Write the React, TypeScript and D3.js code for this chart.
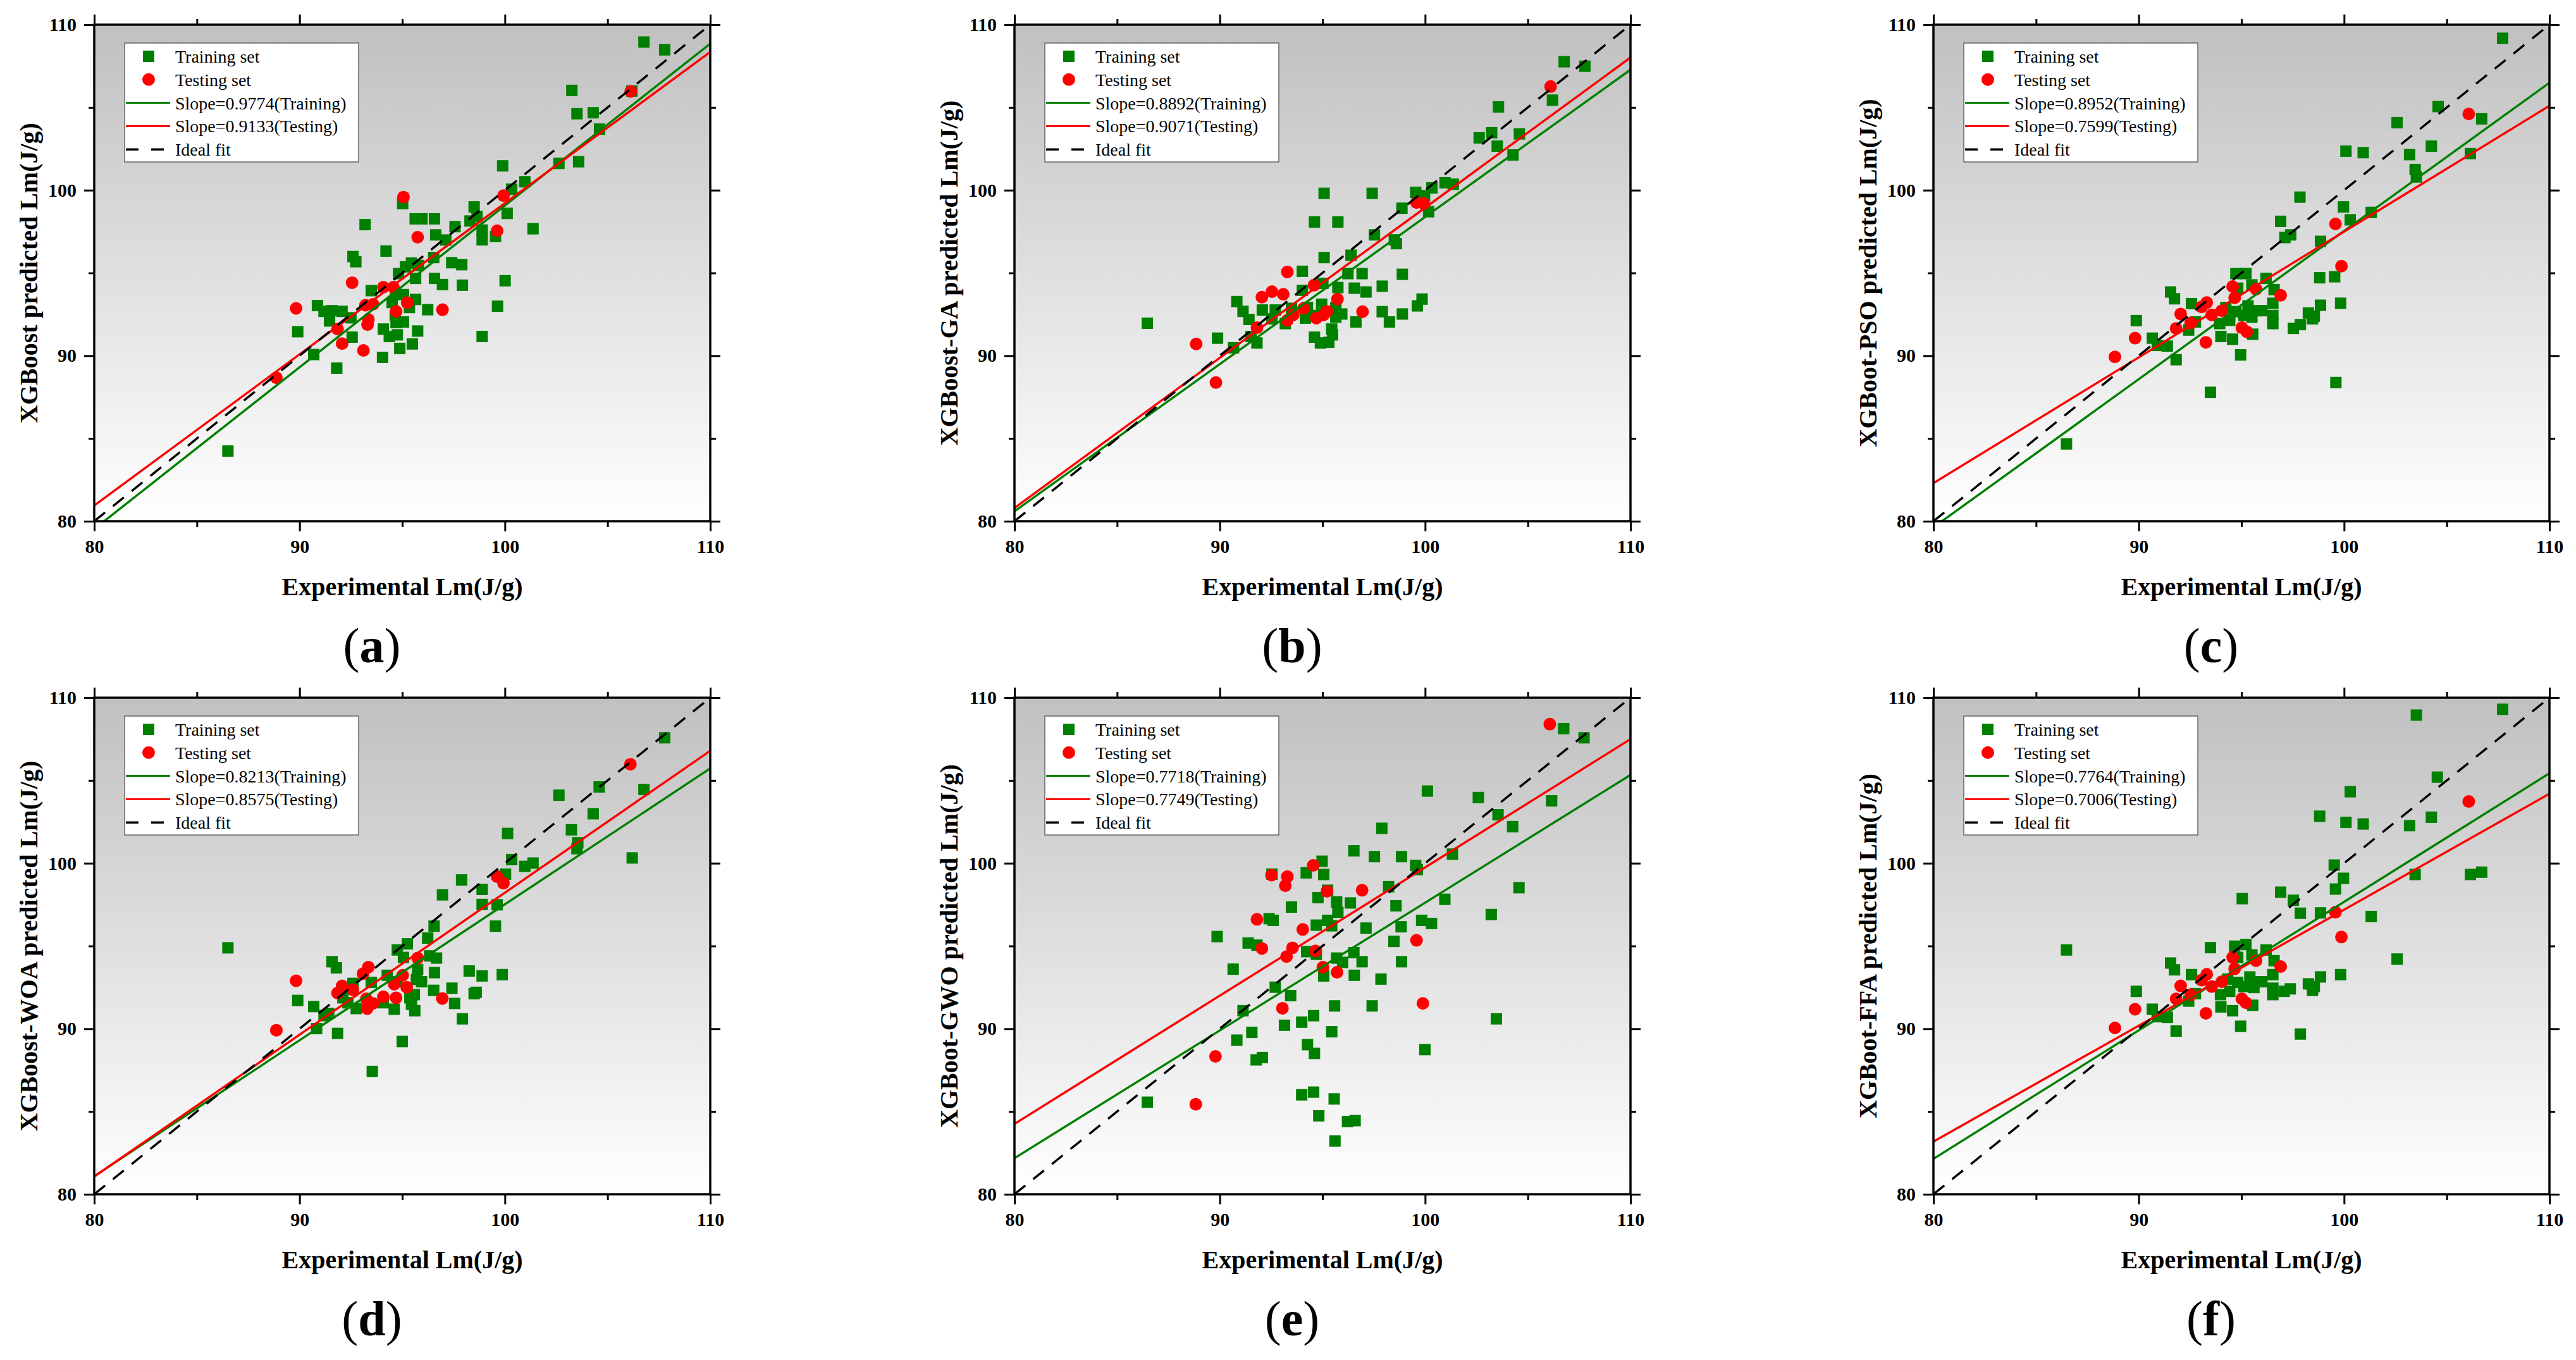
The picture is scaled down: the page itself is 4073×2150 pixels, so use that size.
import React, { useEffect, useRef } from 'react';
import * as d3 from 'd3';

// ---- data (Experimental, Predicted) ----
const trainA: [number, number][] = [
  [106.77, 108.95], [107.78, 108.48], [103.26, 106.03], [106.18, 105.99], [103.51, 104.62], [104.3, 104.68],
  [104.61, 103.69], [102.63, 101.62], [103.59, 101.72], [99.89, 101.47], [100.97, 100.51], [100.33, 100.06],
  [100.11, 98.6], [101.37, 97.67], [95.02, 99.19], [95.63, 98.27], [95.96, 98.27], [96.57, 98.27],
  [93.19, 97.92], [98.5, 98.99], [98.3, 98.14], [98.64, 98.41], [97.57, 97.8], [98.89, 97.59],
  [98.89, 97.0], [99.54, 97.2], [96.63, 97.3], [97.12, 96.99], [94.21, 96.32], [92.6, 95.99],
  [92.74, 95.68], [96.53, 95.93], [97.41, 95.62], [97.9, 95.5], [95.45, 95.6], [95.79, 95.45],
  [95.16, 95.37], [94.82, 94.96], [95.65, 94.67], [96.57, 94.67], [96.96, 94.3], [97.93, 94.26],
  [100.01, 94.53], [93.49, 93.93], [94.67, 93.79], [95.06, 93.69], [95.65, 93.4], [95.35, 92.91],
  [94.51, 93.21], [96.24, 92.78], [99.64, 92.99], [90.87, 93.03], [91.19, 92.68], [91.58, 92.72],
  [92.07, 92.68], [92.5, 92.29], [91.46, 92.1], [94.66, 92.43], [94.7, 92.0], [95.06, 92.04],
  [94.08, 91.61], [95.75, 91.49], [89.91, 91.45], [92.56, 91.12], [94.37, 91.16], [94.76, 91.26],
  [98.89, 91.16], [90.69, 90.07], [95.49, 90.71], [94.88, 90.44], [94.04, 89.9], [91.81, 89.25],
  [86.51, 84.24],
];
const testA: [number, number][] = [
  [106.13, 105.97], [95.06, 99.58], [99.93, 99.67], [95.75, 97.16], [99.62, 97.55], [92.56, 94.41],
  [94.08, 94.14], [94.57, 94.14], [89.83, 92.86], [93.21, 93.05], [93.58, 93.11], [95.24, 93.21],
  [94.7, 92.68], [96.96, 92.78], [93.35, 92.19], [93.31, 91.88], [91.85, 91.61], [92.07, 90.73],
  [93.11, 90.32], [88.87, 88.67],
];

const trainB: [number, number][] = [
  [106.77, 107.76], [107.78, 107.49], [106.2, 105.44], [103.57, 105.03], [102.63, 103.16], [103.24, 103.47],
  [103.51, 102.66], [104.59, 103.4], [104.28, 102.13], [99.54, 99.87], [99.97, 99.67], [100.33, 100.14],
  [100.97, 100.45], [101.37, 100.36], [100.17, 98.7], [98.87, 98.91], [95.08, 99.81], [97.42, 99.81],
  [94.61, 98.08], [95.75, 98.08], [97.53, 97.3], [98.5, 97.0], [98.6, 96.77], [96.39, 96.07],
  [95.08, 95.93], [94.02, 95.1], [96.24, 94.96], [96.93, 94.96], [98.89, 94.92], [94.02, 93.95],
  [95.75, 94.12], [95.02, 94.37], [96.55, 94.08], [97.12, 93.85], [97.91, 94.2], [99.85, 93.42],
  [99.62, 93.01], [90.83, 93.27], [91.13, 92.68], [91.42, 92.19], [92.07, 92.76], [92.7, 92.76],
  [92.54, 92.23], [93.49, 92.86], [94.27, 92.91], [94.61, 92.43], [94.96, 93.11], [95.65, 92.91],
  [95.65, 92.33], [95.94, 92.52], [96.63, 92.04], [97.91, 92.66], [98.26, 92.04], [98.89, 92.52],
  [93.19, 91.94], [94.17, 92.27], [95.45, 91.61], [95.49, 91.26], [94.61, 91.12], [94.9, 90.77],
  [95.31, 90.81], [89.89, 91.06], [90.67, 90.48], [91.81, 90.77], [91.52, 91.16], [86.47, 91.96],
];
const testB: [number, number][] = [
  [106.11, 106.26], [99.58, 99.25], [99.93, 99.19], [93.29, 95.06], [94.59, 94.26], [92.54, 93.87],
  [92.05, 93.54], [93.09, 93.71], [95.73, 93.42], [94.08, 92.86], [93.58, 92.47], [93.29, 92.14],
  [94.7, 92.27], [95.06, 92.47], [95.22, 92.68], [96.95, 92.66], [91.81, 91.69], [88.85, 90.71],
  [89.81, 88.38],
];

const trainC: [number, number][] = [
  [107.72, 109.18], [104.58, 105.05], [102.58, 104.08], [106.7, 104.31], [100.09, 102.36], [100.93, 102.27],
  [103.19, 102.15], [104.25, 102.66], [106.15, 102.21], [103.46, 101.25], [103.52, 100.8], [97.85, 99.58],
  [99.97, 98.99], [100.3, 98.21], [101.32, 98.66], [96.91, 98.12], [97.12, 97.14], [97.4, 97.3],
  [98.85, 96.91], [94.73, 94.96], [95.22, 94.96], [98.81, 94.71], [99.54, 94.77], [96.2, 94.67],
  [96.59, 93.99], [95.51, 94.28], [94.82, 94.08], [91.55, 93.85], [91.74, 93.44], [92.57, 93.15],
  [96.53, 93.17], [98.85, 93.05], [99.83, 93.17], [94.24, 92.91], [94.73, 92.66], [95.32, 93.01],
  [95.71, 92.72], [96.0, 92.72], [95.12, 92.43], [95.51, 92.33], [96.53, 92.43], [96.53, 91.94],
  [98.26, 92.58], [98.55, 92.39], [98.46, 92.23], [97.87, 91.88], [97.53, 91.65], [93.94, 91.94],
  [94.43, 92.14], [92.76, 92.04], [92.43, 91.55], [89.88, 92.12], [90.66, 91.06], [90.9, 90.62],
  [91.39, 90.58], [94.0, 91.16], [94.57, 91.0], [95.55, 91.3], [91.82, 89.76], [94.96, 90.05],
  [99.6, 88.38], [93.49, 87.79], [86.48, 84.67],
];
const testC: [number, number][] = [
  [106.07, 104.6], [99.58, 97.96], [99.87, 95.41], [96.91, 93.65], [94.57, 94.18], [95.71, 94.02],
  [94.67, 93.5], [93.31, 93.21], [93.06, 92.95], [93.55, 92.47], [94.04, 92.72], [92.04, 92.52],
  [92.53, 91.98], [91.82, 91.65], [95.02, 91.69], [95.26, 91.45], [89.82, 91.06], [93.27, 90.81],
  [88.84, 89.93],
];

const trainD: [number, number][] = [
  [107.78, 107.58], [104.59, 104.61], [106.77, 104.46], [102.63, 104.11], [104.3, 102.99], [103.24, 102.02],
  [103.55, 101.24], [103.51, 100.88], [106.2, 100.32], [100.13, 101.8], [100.33, 100.22], [100.97, 99.81],
  [101.37, 100.01], [100.03, 99.34], [97.89, 98.99], [98.89, 98.42], [96.96, 98.09], [98.89, 97.51],
  [99.62, 97.49], [99.54, 96.2], [96.55, 96.2], [96.24, 95.48], [95.25, 95.13], [94.76, 94.76],
  [95.06, 94.31], [96.34, 94.4], [96.67, 94.27], [86.51, 94.89], [91.58, 94.05], [91.79, 93.68],
  [95.75, 93.58], [96.57, 93.39], [98.26, 93.49], [98.89, 93.19], [99.87, 93.27], [94.27, 93.23],
  [94.76, 92.84], [95.69, 92.98], [95.94, 92.84], [92.6, 92.74], [93.49, 92.8], [95.59, 92.06],
  [96.53, 92.32], [97.42, 92.45], [98.5, 92.12], [98.6, 92.2], [97.55, 91.53], [92.11, 91.87],
  [92.35, 91.57], [92.76, 91.22], [94.08, 91.57], [94.61, 91.18], [95.45, 91.48], [95.61, 91.09],
  [95.37, 91.87], [89.91, 91.71], [90.69, 91.34], [91.42, 90.93], [91.19, 90.79], [90.83, 90.01],
  [91.85, 89.72], [97.93, 90.6], [95.0, 89.23], [93.54, 87.42],
];
const testD: [number, number][] = [
  [106.11, 105.98], [99.62, 99.19], [99.93, 98.8], [95.75, 94.27], [93.35, 93.72], [93.09, 93.33],
  [95.02, 93.23], [94.61, 92.69], [95.22, 92.51], [92.07, 92.59], [92.6, 92.35], [91.85, 92.16],
  [93.25, 91.81], [93.58, 91.53], [93.29, 91.22], [94.08, 91.93], [94.7, 91.87], [96.95, 91.83],
  [89.83, 92.9], [88.87, 89.91],
];

const trainE: [number, number][] = [
  [106.75, 108.13], [107.74, 107.58], [100.11, 104.36], [102.59, 103.97], [103.55, 102.93], [106.16, 103.77],
  [104.26, 102.21], [97.89, 102.11], [96.53, 100.75], [97.53, 100.4], [98.85, 100.4], [99.54, 99.87],
  [99.62, 99.62], [101.33, 100.55], [94.98, 100.12], [95.06, 99.32], [94.21, 99.42], [92.54, 99.34],
  [104.57, 98.52], [98.22, 98.58], [95.25, 98.37], [94.78, 97.92], [95.69, 97.66], [96.36, 97.6],
  [95.75, 97.04], [98.58, 97.43], [93.49, 97.35], [100.96, 97.82], [92.4, 96.65], [92.6, 96.55],
  [94.7, 96.26], [95.25, 96.55], [95.45, 96.22], [97.12, 96.08], [99.83, 96.55], [100.31, 96.36],
  [103.22, 96.9], [98.83, 96.16], [98.48, 95.28], [89.87, 95.57], [91.38, 95.18], [91.81, 95.05],
  [94.23, 94.66], [94.7, 94.5], [96.53, 94.6], [95.69, 94.27], [95.98, 94.01], [96.93, 94.05],
  [98.85, 94.05], [90.65, 93.6], [95.06, 93.19], [96.55, 93.23], [97.85, 93.0], [92.7, 92.51],
  [93.45, 92.0], [91.13, 91.09], [95.59, 91.38], [97.42, 91.38], [103.47, 90.6], [94.57, 90.79],
  [93.99, 90.4], [93.15, 90.21], [95.45, 89.82], [91.56, 89.78], [90.83, 89.31], [94.27, 89.04],
  [94.61, 88.51], [91.77, 88.12], [92.07, 88.26], [99.99, 88.74], [86.47, 85.56], [93.99, 86.01],
  [94.57, 86.17], [95.57, 85.76], [94.82, 84.74], [96.22, 84.39], [96.59, 84.45], [95.61, 83.22],
];
const testE: [number, number][] = [
  [106.07, 108.4], [94.55, 99.87], [92.52, 99.28], [93.29, 99.19], [93.19, 98.64], [95.22, 98.31],
  [96.93, 98.37], [91.81, 96.61], [94.04, 96.0], [92.05, 94.85], [93.54, 94.89], [93.25, 94.36],
  [94.66, 94.7], [95.02, 93.72], [95.71, 93.41], [99.58, 95.34], [99.89, 91.53], [93.05, 91.24],
  [89.79, 88.33], [88.83, 85.44],
];

const trainF: [number, number][] = [
  [107.72, 109.3], [103.52, 108.95], [104.54, 105.2], [100.3, 104.32], [98.81, 102.84], [100.09, 102.47],
  [100.93, 102.37], [103.19, 102.27], [104.25, 102.78], [99.52, 99.89], [99.97, 99.09], [103.46, 99.32],
  [106.15, 99.32], [106.7, 99.46], [99.58, 98.44], [95.04, 97.86], [96.91, 98.25], [97.53, 97.76],
  [97.87, 96.98], [98.85, 97.0], [101.32, 96.78], [86.48, 94.76], [93.49, 94.9], [94.67, 94.99],
  [95.22, 95.09], [96.2, 94.76], [95.51, 94.46], [96.59, 94.11], [94.82, 94.31], [102.58, 94.21],
  [91.55, 93.97], [91.74, 93.56], [92.57, 93.27], [96.53, 93.27], [98.85, 93.13], [99.83, 93.27],
  [94.33, 93.0], [94.82, 92.8], [95.41, 93.13], [95.71, 92.84], [96.0, 92.84], [95.12, 92.55],
  [95.61, 92.49], [96.53, 92.45], [96.53, 92.06], [97.38, 92.41], [97.08, 92.26], [98.26, 92.71],
  [98.55, 92.55], [98.46, 92.32], [93.98, 92.06], [94.43, 92.26], [92.76, 92.12], [92.43, 91.67],
  [89.88, 92.26], [90.66, 91.18], [90.9, 90.73], [91.39, 90.69], [94.0, 91.32], [94.57, 91.09],
  [95.55, 91.42], [91.82, 89.86], [94.96, 90.15], [97.87, 89.68],
];
const testF: [number, number][] = [
  [106.07, 103.73], [99.58, 97.04], [99.87, 95.54], [96.91, 93.76], [94.57, 94.31], [95.71, 94.11],
  [94.67, 93.62], [93.31, 93.29], [93.06, 92.94], [93.55, 92.55], [94.04, 92.84], [92.04, 92.59],
  [92.53, 92.06], [91.82, 91.81], [95.02, 91.81], [95.22, 91.57], [89.82, 91.18], [93.27, 90.93],
  [88.84, 90.05],
];

const panelTags = ['a', 'b', 'c', 'd', 'e', 'f'];
const yTitles = [
  'XGBoost predicted Lm(J/g)',
  'XGBoost-GA predicted Lm(J/g)',
  'XGBoot-PSO predicted Lm(J/g)',
  'XGBoost-WOA predicted Lm(J/g)',
  'XGBoot-GWO predicted Lm(J/g)',
  'XGBoot-FFA predicted Lm(J/g)',
];
const trainSets = [trainA, trainB, trainC, trainD, trainE, trainF];
const testSets = [testA, testB, testC, testD, testE, testF];
const slopeTrain = [0.9774, 0.8892, 0.8952, 0.8213, 0.7718, 0.7764];
const slopeTest = [0.9133, 0.9071, 0.7599, 0.8575, 0.7749, 0.7006];
// fitted value at x = 80
const fitStartTrain = [79.53, 80.6, 79.63, 81.09, 82.18, 82.14];
const fitStartTest = [80.95, 80.8, 82.3, 81.07, 84.25, 83.18];

const majorTicks = [80, 90, 100, 110];
const minorTicks = [85, 95, 105];

const W = 4073;
const H = 2150;
const FONT = "'Liberation Serif', 'Times New Roman', serif";

const App: React.FC = () => {
  const svgRef = useRef<SVGSVGElement | null>(null);

  useEffect(() => {
    const svg = d3.select(svgRef.current);
    svg.selectAll('*').remove();

    const colLeft = [149, 1604, 3057];
    const rowTop = [39, 1103];
    const plotW = 974;
    const plotH = 785;

    const defs = svg.append('defs');
    const grad = defs.append('linearGradient')
      .attr('id', 'bgGrad')
      .attr('x1', 0).attr('y1', 0).attr('x2', 0).attr('y2', 1);
    grad.append('stop').attr('offset', '0%').attr('stop-color', '#c0c0c0');
    grad.append('stop').attr('offset', '100%').attr('stop-color', '#ffffff');

    const xScale = d3.scaleLinear().domain([80, 110]).range([0, plotW]);
    const yScale = d3.scaleLinear().domain([80, 110]).range([plotH, 0]);

    panelTags.forEach((tag, i) => {
      const left = colLeft[i % 3];
      const top = rowTop[Math.floor(i / 3)];
      const g = svg.append('g').attr('transform', `translate(${left},${top})`);

      defs.append('clipPath').attr('id', `clip${i}`)
        .append('rect').attr('width', plotW).attr('height', plotH);

      g.append('rect')
        .attr('width', plotW)
        .attr('height', plotH)
        .attr('fill', 'url(#bgGrad)');

      const inner = g.append('g').attr('clip-path', `url(#clip${i})`);

      // training points
      const sq = 18;
      inner.selectAll('rect.train')
        .data(trainSets[i])
        .join('rect')
        .attr('class', 'train')
        .attr('x', d => xScale(d[0]) - sq / 2)
        .attr('y', d => yScale(d[1]) - sq / 2)
        .attr('width', sq)
        .attr('height', sq)
        .attr('fill', '#008000');

      // testing points
      inner.selectAll('circle.test')
        .data(testSets[i])
        .join('circle')
        .attr('class', 'test')
        .attr('cx', d => xScale(d[0]))
        .attr('cy', d => yScale(d[1]))
        .attr('r', 10)
        .attr('fill', '#ff0000');

      // fit lines
      const line = d3.line<[number, number]>()
        .x(d => xScale(d[0]))
        .y(d => yScale(d[1]));

      const fitTrain: [number, number][] = [[80, fitStartTrain[i]], [110, fitStartTrain[i] + slopeTrain[i] * 30]];
      const fitTest: [number, number][] = [[80, fitStartTest[i]], [110, fitStartTest[i] + slopeTest[i] * 30]];
      const ideal: [number, number][] = [[80, 80], [110, 110]];

      inner.append('path').attr('d', line(fitTrain)).attr('stroke', '#008000').attr('stroke-width', 3.5).attr('fill', 'none');
      inner.append('path').attr('d', line(fitTest)).attr('stroke', '#ff0000').attr('stroke-width', 3.5).attr('fill', 'none');
      inner.append('path').attr('d', line(ideal)).attr('stroke', '#000').attr('stroke-width', 3.5)
        .attr('stroke-dasharray', '22 16').attr('fill', 'none');

      // axes (ticks outward on all four sides)
      const styleAxis = (sel: any) => {
        sel.select('.domain').remove();
        sel.selectAll('line').attr('stroke', '#000').attr('stroke-width', 3);
        sel.selectAll('text')
          .attr('font-family', FONT)
          .attr('font-weight', 'bold')
          .attr('font-size', 30)
          .attr('fill', '#000');
        sel.attr('font-family', null).attr('font-size', null);
      };
      const noLabel = () => '';

      const bottom = g.append('g').attr('transform', `translate(0,${plotH})`);
      bottom.call(d3.axisBottom(xScale).tickValues(majorTicks).tickSize(16).tickPadding(13).tickFormat(d3.format('d')) as any);
      styleAxis(bottom);
      const bottomMinor = g.append('g').attr('transform', `translate(0,${plotH})`);
      bottomMinor.call(d3.axisBottom(xScale).tickValues(minorTicks).tickSize(9).tickFormat(noLabel) as any);
      styleAxis(bottomMinor);

      const leftAx = g.append('g');
      leftAx.call(d3.axisLeft(yScale).tickValues(majorTicks).tickSize(16).tickPadding(12).tickFormat(d3.format('d')) as any);
      styleAxis(leftAx);
      const leftMinor = g.append('g');
      leftMinor.call(d3.axisLeft(yScale).tickValues(minorTicks).tickSize(9).tickFormat(noLabel) as any);
      styleAxis(leftMinor);

      const topAx = g.append('g');
      topAx.call(d3.axisTop(xScale).tickValues(majorTicks).tickSize(16).tickFormat(noLabel) as any);
      styleAxis(topAx);
      const topMinor = g.append('g');
      topMinor.call(d3.axisTop(xScale).tickValues(minorTicks).tickSize(9).tickFormat(noLabel) as any);
      styleAxis(topMinor);

      const rightAx = g.append('g').attr('transform', `translate(${plotW},0)`);
      rightAx.call(d3.axisRight(yScale).tickValues(majorTicks).tickSize(16).tickFormat(noLabel) as any);
      styleAxis(rightAx);
      const rightMinor = g.append('g').attr('transform', `translate(${plotW},0)`);
      rightMinor.call(d3.axisRight(yScale).tickValues(minorTicks).tickSize(9).tickFormat(noLabel) as any);
      styleAxis(rightMinor);

      g.append('rect')
        .attr('width', plotW)
        .attr('height', plotH)
        .attr('fill', 'none')
        .attr('stroke', '#000')
        .attr('stroke-width', 3.5);

      // legend
      const lg = g.append('g').attr('transform', 'translate(48,29)');
      lg.append('rect').attr('width', 370).attr('height', 188)
        .attr('fill', '#fff').attr('stroke', '#666').attr('stroke-width', 1.5);
      const rowY = (k: number) => 31 + k * 36.8;
      const labels = [
        'Training set',
        'Testing set',
        `Slope=${slopeTrain[i].toFixed(4)}(Training)`,
        `Slope=${slopeTest[i].toFixed(4)}(Testing)`,
        'Ideal fit',
      ];
      lg.append('rect').attr('x', 29).attr('y', rowY(0) - 19).attr('width', 18).attr('height', 18).attr('fill', '#008000');
      lg.append('circle').attr('cx', 38).attr('cy', rowY(1) - 10).attr('r', 10).attr('fill', '#ff0000');
      lg.append('line').attr('x1', 2).attr('x2', 72).attr('y1', rowY(2) - 10).attr('y2', rowY(2) - 10)
        .attr('stroke', '#008000').attr('stroke-width', 3);
      lg.append('line').attr('x1', 2).attr('x2', 72).attr('y1', rowY(3) - 10).attr('y2', rowY(3) - 10)
        .attr('stroke', '#ff0000').attr('stroke-width', 3);
      lg.append('line').attr('x1', 2).attr('x2', 72).attr('y1', rowY(4) - 10).attr('y2', rowY(4) - 10)
        .attr('stroke', '#000').attr('stroke-width', 3.5).attr('stroke-dasharray', '20 20');
      labels.forEach((t, k) => {
        lg.append('text')
          .attr('x', 80)
          .attr('y', rowY(k))
          .attr('font-family', FONT)
          .attr('font-size', 28)
          .attr('fill', '#000')
          .text(t);
      });

      // axis titles
      g.append('text')
        .attr('x', plotW / 2)
        .attr('y', plotH + 117)
        .attr('text-anchor', 'middle')
        .attr('font-family', FONT)
        .attr('font-weight', 'bold')
        .attr('font-size', 40)
        .text('Experimental Lm(J/g)');

      g.append('text')
        .attr('transform', `translate(-90,${plotH / 2}) rotate(-90)`)
        .attr('text-anchor', 'middle')
        .attr('font-family', FONT)
        .attr('font-weight', 'bold')
        .attr('font-size', 40)
        .text(yTitles[i]);

      // panel tag
      const tagText = g.append('text')
        .attr('x', plotW / 2 - 48)
        .attr('y', plotH + 223)
        .attr('text-anchor', 'middle')
        .attr('font-family', FONT)
        .attr('font-size', 78);
      tagText.append('tspan').text('(');
      tagText.append('tspan').attr('font-weight', 'bold').text(tag);
      tagText.append('tspan').text(')');
    });
  }, []);

  return (
    <svg
      ref={svgRef}
      width={W}
      height={H}
      style={{ position: 'absolute', left: 0, top: 0, background: '#fff', display: 'block' }}
    />
  );
};

export default App;
